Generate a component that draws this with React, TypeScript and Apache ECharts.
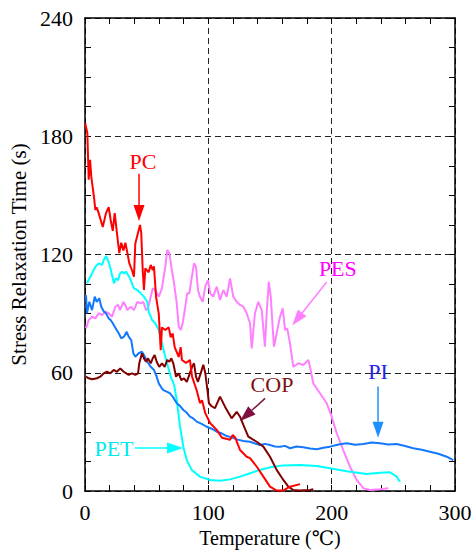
import React, { useEffect, useRef } from "react";
import * as echarts from "echarts";

// ---- data (temperature °C, stress relaxation time s) ----
const pcData: [number, number][] = [
  [0.2,186.5],[1.9,181.5],[3.0,158],[4.1,168],[5.1,159.5],[7.3,149],[8.4,142.6],[9.5,144],[11.1,141],[14.4,134],[17.0,141],[19.2,144],[20.8,137.5],[22.5,132],[24.1,141],[25.7,132],[26.8,126],[27.8,120.7],[29.4,126],[31.1,122],[32.7,126],[34.3,121],[35.9,115.6],[38.1,112],[39.7,108.7],[40.8,125.6],[43.0,131],[44.6,135],[45.6,131],[46.8,112],[47.8,102],[48.9,113],[51.6,111],[53.3,114.7],[54.9,112],[55.9,114],[57.6,98.6],[59.8,90],[61.4,71.5],[62.4,83],[65.1,81.7],[67.9,83],[69.5,78],[71.1,80],[72.7,73],[76.0,68],[77.6,73],[78.6,66.5],[81.9,65],[85.1,66.5],[86.8,58],[90.6,51],[93.2,44.6],[94.9,46],[97.5,39.5],[101.4,34.5],[106.8,31],[111.1,27],[117.6,26],[119.8,28.4],[121.9,27],[125.7,20.8],[131.1,17.4],[133.8,16.7],[139.3,12.3],[144.6,7.3],[150.0,2.2],[155.4,0.2],[160.5,0.2],[166.2,2.2],[174.3,3.5]
];
const petData: [number, number][] = [
  [1.6,105.4],[5.7,110.4],[8.4,113.8],[11.1,115.5],[13.8,114.7],[15.2,117.2],[17.0,119.2],[18.6,117.2],[20.3,113.8],[21.9,109.6],[23.5,105.4],[25.1,107.9],[26.8,107],[28.4,110.4],[30.0,111.3],[31.6,110.4],[33.2,111.3],[34.9,109.6],[36.5,107.9],[38.1,105.4],[39.7,102.8],[42.4,102],[45.2,100.3],[47.8,98.6],[50.5,96],[51.6,91],[54.3,86.8],[57.0,85.1],[59.8,81.7],[62.4,74.9],[65.1,68.1],[67.3,63],[69.5,58],[72.2,54],[74.4,46.2],[77.0,33],[79.7,22.5],[82.5,15.7],[86.5,10.7],[93.2,7.3],[101.4,5.6],[109.5,5.2],[117.6,5.9],[125.7,7.3],[133.8,9.0],[141.9,10.7],[150,12],[160.8,13],[174.3,13.2],[187.9,12.7],[198.7,11.5],[212.2,10],[228.4,8.6],[239.2,9.3],[247.3,9.5],[252.7,7.3],[255.4,4.7]
];
const piData: [number, number][] = [
  [0.8,99.4],[1.6,90.2],[3.5,96],[5.7,91.8],[7.9,98.6],[9.5,96],[11.6,97.8],[13.2,93.5],[15.4,91],[17.0,90.2],[19.2,87.6],[20.8,86.8],[22.5,85.1],[24.1,83.4],[25.7,81.7],[27.3,80],[29.4,77.5],[31.6,78.3],[33.8,80.8],[35.4,78.3],[37.5,76.6],[39.2,69.9],[40.8,68.1],[43.5,69.9],[46.2,70.7],[47.8,69],[50.5,65.6],[53.3,63],[55.9,61.4],[58.1,58],[59.8,54.6],[62.4,52],[63.5,51.2],[66.2,50.4],[68.9,49.6],[71.5,47.5],[74.4,44.5],[77.0,43.2],[79.7,41.1],[82.4,39.8],[85.1,37.7],[87.8,36.8],[90.6,35.2],[94.6,34.1],[98.7,32.6],[102.7,31.6],[106.8,30.1],[110.8,29.3],[114.9,27.9],[119.0,27.2],[123,26.2],[128.4,25.4],[133.8,25],[137.9,24.1],[141.9,23.3],[146.0,23.9],[150,23.3],[154.0,22.6],[158.1,22.5],[162.2,22.9],[166.2,21.7],[171.6,22.6],[177,22.2],[182.5,21.6],[187.9,21.2],[193.3,21.9],[198.7,22.5],[205.5,23.6],[212.2,24.2],[219.0,23.5],[225.7,23.8],[232.5,24.6],[239.2,24.2],[246.0,23.6],[252.7,23.8],[259.5,22.8],[266.2,21.7],[273.0,20.9],[279.7,19.9],[286.5,18.9],[293.3,17.4],[298.6,15.7]
];
const pesData: [number, number][] = [
  [0.8,82.5],[3.0,86.8],[5.7,88.4],[8.4,87.6],[11.1,90.2],[13.8,89.3],[16.5,91],[19.2,90.2],[21.9,88.4],[24.6,93.5],[26.8,94.4],[28.4,91.8],[31.1,96],[32.7,94.4],[34.3,91.8],[37.1,93.5],[39.7,91.8],[42.4,96],[45.2,95.2],[47.3,96],[49.5,91.8],[51.1,92.7],[53.3,98.6],[54.9,102.8],[57.0,102],[59.8,98.6],[62.4,102.8],[65.1,113.8],[66.7,122.3],[68.4,120.6],[70.0,113.8],[72.2,105.4],[74.4,95.2],[76.0,83.4],[77.6,81.7],[79.2,85.1],[81.3,93.5],[82.9,100.3],[84.6,100.3],[86.2,107],[88.4,115.5],[90.0,113.8],[91.6,102],[93.2,98.6],[95.4,96],[97.5,103.7],[99.7,107],[101.6,100.3],[104.0,98.6],[106.8,103.7],[109.5,96.9],[112.1,102],[114.9,98.6],[117.6,107.9],[120.2,98.6],[123.0,96],[125.7,94.4],[128.4,93.5],[131.1,90.2],[133.8,85.1],[135.2,72.4],[137.8,90.2],[140.5,96],[143.3,91.8],[145.9,73.2],[147.3,90.2],[149.0,106.2],[150.6,98.6],[153.2,73.2],[155.4,80],[158.1,88.4],[160.3,92.7],[162.2,81.7],[164.0,82.5],[166.2,74.9],[168.9,63],[172.9,64.8],[177.0,63.9],[181.1,66.5],[182.4,63],[185.1,54.6],[190.5,49.6],[196.0,44.5],[200.0,37.7],[204.1,29.3],[209.4,20.8],[214.9,12.3],[220.3,5.6],[225.7,1.4],[231.1,0.5],[239.2,0.9],[245.9,1.4]
];
const copData: [number, number][] = [
  [0.8,58],[3.0,57.2],[5.7,56.7],[9.7,57.2],[12.4,58],[15.2,59.7],[17.8,60.5],[20.5,59.7],[23.3,61.4],[25.9,60.5],[28.6,62.2],[31.4,60.5],[35.4,58.9],[38.1,59.7],[40.8,58.9],[43.0,59.7],[44.0,64.8],[46.2,69.9],[47.8,67.3],[49.5,65.6],[51.1,67.3],[53.3,64.8],[54.9,67.3],[56.5,69],[58.1,65.6],[60.2,63],[62.4,64.8],[64.6,63],[66.7,66.5],[68.4,65.6],[70.0,67.3],[71.6,64.8],[73.8,58],[76.0,59.7],[78.1,56.3],[80.3,57.2],[82.5,55.4],[84.6,58.9],[86.8,63],[88.4,64.8],[90.0,58],[91.6,55.4],[93.8,59.7],[95.9,64],[97.5,60],[99.5,50],[100.5,44.5],[102.7,43],[105.4,42],[109.5,47.9],[113.5,42.8],[118.9,36.9],[123.0,40.2],[125.7,37.7],[128.4,33.5],[132.4,27.6],[139.2,25],[144.6,22.5],[150,17.4],[155.4,10.7],[160.8,5.6],[164.9,2.2],[168.9,0.5],[174.3,0.3],[182.4,0.5],[185.1,0.9]
];

const xTicks = [0, 100, 200, 300];
const yTicks = [0, 60, 120, 180, 240];

// annotations: label text, label anchor (data), arrow start/end (data)
const annoNames = ["PC", "PES", "PI", "COP", "PET"];
const annoLabelAt: [number, number][] = [[47, 167], [205, 113], [237.6, 60.4], [151.6, 53.8], [23.5, 21.8]];
const annoArrowFrom: [number, number][] = [[43.8, 161], [196, 106], [237.6, 53], [146, 47], [40.5, 21.8]];
const annoArrowTo: [number, number][] = [[43.8, 137], [168, 84], [237.6, 27], [125.7, 35.5], [79.5, 21.8]];

const FONT = "Times New Roman, Liberation Serif, DejaVu Serif, serif";

export default function App() {
  const ref = useRef<HTMLDivElement>(null);
  useEffect(() => {
    if (!ref.current) return;
    const chart = echarts.init(ref.current, undefined, { renderer: "svg" });
    const axisCommon = {
      axisLine: { show: true, onZero: false, lineStyle: { color: "#000", width: 1.5 } },
      axisTick: { show: true, inside: true, length: 6, lineStyle: { color: "#000", width: 1 } },
      minorTick: { show: true, length: 6, lineStyle: { color: "#000", width: 1 } },
    };
    const lineSeries = (name: string, data: [number, number][], color: string) => ({
      name, type: "line", data, showSymbol: false, symbol: "none",
      lineStyle: { color, width: 2 }, itemStyle: { color },
      xAxisIndex: 0, yAxisIndex: 0,
    });
    chart.setOption({
      animation: false,
      backgroundColor: "#fff",
      textStyle: { fontFamily: FONT },
      grid: { left: 85, top: 18, width: 370, height: 473, containLabel: false, outerBoundsMode: "none" },
      xAxis: [
        {
          type: "value", position: "bottom", min: 0, max: 300, interval: 100,
          ...axisCommon,
          minorTick: { ...axisCommon.minorTick, splitNumber: 5 },
          axisLabel: {
            color: "#000", fontFamily: FONT, fontSize: 22, margin: 10,
            formatter: (v: number) => (xTicks.includes(v) ? String(v) : ""),
          },
          splitLine: { show: true, lineStyle: { color: "#222", type: [6, 4], width: 1 } },
          name: "Temperature (\u2103)", nameLocation: "middle", nameGap: 37,
          nameTextStyle: { color: "#000", fontFamily: FONT, fontSize: 20 },
        },
        {
          type: "value", position: "top", min: 0, max: 300, interval: 100,
          ...axisCommon,
          minorTick: { ...axisCommon.minorTick, splitNumber: 5 },
          axisLabel: { show: false }, splitLine: { show: false },
        },
      ],
      yAxis: [
        {
          type: "value", position: "left", min: 0, max: 240, interval: 60,
          ...axisCommon,
          minorTick: { ...axisCommon.minorTick, splitNumber: 4 },
          axisLabel: {
            color: "#000", fontFamily: FONT, fontSize: 22, margin: 12,
            formatter: (v: number) => (yTicks.includes(v) ? String(v) : ""),
          },
          splitLine: { show: true, lineStyle: { color: "#222", type: [6, 4], width: 1 } },
          name: "Stress Relaxation Time (s)", nameLocation: "middle", nameGap: 50,
          nameTextStyle: { color: "#000", fontFamily: FONT, fontSize: 21 },
        },
        {
          type: "value", position: "right", min: 0, max: 240, interval: 60,
          ...axisCommon,
          minorTick: { ...axisCommon.minorTick, splitNumber: 4 },
          axisLabel: { show: false }, splitLine: { show: false },
        },
      ],
      series: [
        lineSeries("PES", pesData, "#ff80ff"),
        lineSeries("PET", petData, "#00ffff"),
        lineSeries("PI", piData, "#1478ff"),
        lineSeries("COP", copData, "#800000"),
        lineSeries("PC", pcData, "#ff0000"),
      ],
    });

    const textColors = ["#ff0000", "#ff00ff", "#2222ee", "#801010", "#00e8f0"];
    const arrowColors = ["#ff0000", "#ff80ff", "#1e90ff", "#801040", "#00ffff"];
    const toPx = (p: [number, number]) =>
      chart.convertToPixel({ xAxisIndex: 0, yAxisIndex: 0 }, p) as number[];
    const graphics: any[] = [];
    annoNames.forEach((name, i) => {
      const lp = toPx(annoLabelAt[i]);
      const a = toPx(annoArrowFrom[i]);
      const b = toPx(annoArrowTo[i]);
      const dx = b[0] - a[0], dy = b[1] - a[1];
      const len = Math.hypot(dx, dy);
      const ux = dx / len, uy = dy / len;
      const headL = 16, headW = 5.5;
      const bx = b[0] - ux * headL, by = b[1] - uy * headL;
      graphics.push({
        type: "text", x: lp[0], y: lp[1], z: 100,
        style: {
          text: name, fill: textColors[i], fontFamily: FONT, fontSize: 22,
          align: "center", verticalAlign: "middle",
        },
      });
      graphics.push({
        type: "line", z: 100,
        shape: { x1: a[0], y1: a[1], x2: bx, y2: by },
        style: { stroke: arrowColors[i], lineWidth: 1.5 },
      });
      graphics.push({
        type: "polygon", z: 100,
        shape: { points: [[b[0], b[1]], [bx - uy * headW, by + ux * headW], [bx + uy * headW, by - ux * headW]] },
        style: { fill: arrowColors[i] },
      });
    });
    chart.setOption({ graphic: graphics });
    return () => chart.dispose();
  }, []);
  return <div ref={ref} style={{ position: "fixed", left: 0, top: 0, width: 472, height: 552, background: "#fff" }} />;
}
